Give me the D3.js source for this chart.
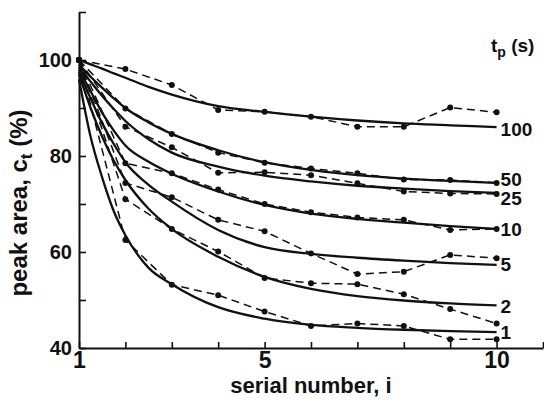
<!DOCTYPE html>
<html>
<head>
<meta charset="utf-8">
<script src="https://cdn.jsdelivr.net/npm/d3@7"></script>
<style>
  body { margin: 0; background: #fff; }
  svg { display: block; }
  text { font-family: "Liberation Sans", Arial, sans-serif; fill: #111; }
</style>
</head>
<body>
<div id="chart"></div>
<script>
// serial numbers of the injections
var serialNumbers = [1, 2, 3, 4, 5, 6, 7, 8, 9, 10];
var fitPositions = [1, 1.25, 1.5, 1.75, 2, 2.5, 3, 4, 5, 6, 7, 8, 9, 10];

var seriesLabels = ["100", "50", "25", "10", "5", "2", "1"];

// measured peak areas (dashed, with dots)
var meas100 = [100, 98.1, 94.8, 89.6, 89.2, 88.2, 86.1, 86.1, 90.1, 89.1];
var meas50 = [100, 89.9, 84.6, 80.7, 78.6, 77.4, 76.4, 75.1, 75.0, 74.4];
var meas25 = [100, 86.1, 81.8, 76.5, 76.6, 76.0, 74.3, 72.6, 72.2, 72.1];
var meas10 = [100, 78.5, 76.4, 73.0, 70.0, 68.3, 67.2, 66.7, 64.6, 64.8];
var meas5 = [100, 74.4, 71.4, 66.7, 64.3, 59.7, 55.4, 55.9, 59.4, 58.7];
var meas2 = [100, 71.0, 64.8, 60.1, 54.6, 53.5, 53.3, 51.2, 48.1, 45.1];
var meas1 = [100, 62.5, 53.2, 51.0, 47.6, 44.6, 45.1, 44.6, 41.8, 41.8];

// fitted curves (solid)
var fit100 = [100, 99.1, 98.2, 97.2, 96.3, 94.4, 92.8, 90.4, 89.2, 88.2, 87.4, 86.8, 86.4, 86.0];
var fit50 = [99, 96.5, 94.2, 92, 90, 87, 84.6, 81.2, 78.7, 77.1, 76.0, 75.3, 74.8, 74.4];
var fit25 = [98.5, 95.5, 92.5, 89.8, 87.3, 83.5, 80.7, 77.8, 75.9, 74.7, 73.8, 73.2, 72.7, 72.3];
var fit10 = [98, 93.5, 89, 85.3, 82.2, 78.8, 76.3, 72.6, 69.8, 68.0, 66.9, 66.1, 65.4, 64.8];
var fit5 = [97.5, 92, 86.8, 82.5, 78.7, 74, 70.5, 64.6, 61, 59.6, 58.8, 58.2, 57.7, 57.3];
var fit2 = [97, 90, 84, 79, 75, 69, 64.8, 59, 54.8, 52.3, 50.8, 49.9, 49.3, 48.9];
var fit1 = [96, 84, 75.5, 68.5, 63.5, 56.7, 53.3, 48.5, 46.1, 44.8, 44.2, 43.8, 43.5, 43.3];

var measured = [meas100, meas50, meas25, meas10, meas5, meas2, meas1];
var fitted = [fit100, fit50, fit25, fit10, fit5, fit2, fit1];

var yTicks = [40, 50, 60, 70, 80, 90, 100, 110];
var yTickLabels = [40, 60, 80, 100];
var xTicks = [1, 2, 3, 4, 5, 6, 7, 8, 9, 10, 11];
var xTickLabels = [1, 5, 10];

var width = 544, height = 401;

var x = d3.scaleLinear().domain([1, 11]).range([79, 543]);
var y = d3.scaleLinear().domain([40, 110]).range([348, 12]);

var svg = d3.select("#chart")
    .append("svg")
    .attr("width", width)
    .attr("height", height);

// axes, ticks pointing inward
var yAxis = d3.axisLeft(y)
    .tickValues(yTicks)
    .tickSizeInner(-7)
    .tickSizeOuter(0)
    .tickPadding(7)
    .tickFormat(function (d) { return yTickLabels.indexOf(d) >= 0 ? d : ""; });

var xAxis = d3.axisBottom(x)
    .tickValues(xTicks)
    .tickSizeInner(-6)
    .tickSizeOuter(0)
    .tickPadding(4)
    .tickFormat(function (d) { return xTickLabels.indexOf(d) >= 0 ? d : ""; });

var gy = svg.append("g")
    .attr("transform", "translate(" + x(1) + ",0)")
    .call(yAxis);

var gx = svg.append("g")
    .attr("transform", "translate(0," + y(40) + ")")
    .call(xAxis);

[gx, gy].forEach(function (g) {
    g.select(".domain").attr("stroke", "#111").attr("stroke-width", 2);
    g.selectAll(".tick line").attr("stroke", "#111").attr("stroke-width", 1.6);
    g.selectAll(".tick text")
        .attr("fill", "#111")
        .style("font-size", "20px")
        .style("font-weight", "bold")
        .style("font-family", "'Liberation Sans', Arial, sans-serif");
});
gx.selectAll(".tick text").style("font-size", "23px");

// fitted curves
var fitLine = d3.line()
    .x(function (d, i) { return x(fitPositions[i]); })
    .y(function (d) { return y(d); })
    .curve(d3.curveMonotoneX);

svg.selectAll("path.fit")
    .data(fitted)
    .enter()
    .append("path")
    .attr("class", "fit")
    .attr("fill", "none")
    .attr("stroke", "#111")
    .attr("stroke-width", 2.3)
    .attr("d", fitLine);

// measured series
var measLine = d3.line()
    .x(function (d, i) { return x(serialNumbers[i]); })
    .y(function (d) { return y(d); });

svg.selectAll("path.meas")
    .data(measured)
    .enter()
    .append("path")
    .attr("class", "meas")
    .attr("fill", "none")
    .attr("stroke", "#111")
    .attr("stroke-width", 1.5)
    .attr("stroke-dasharray", "8,5")
    .attr("d", measLine);

measured.forEach(function (series) {
    svg.selectAll(null)
        .data(series)
        .enter()
        .append("circle")
        .attr("cx", function (d, i) { return x(serialNumbers[i]); })
        .attr("cy", function (d) { return y(d); })
        .attr("r", 3)
        .attr("fill", "#111");
});

// series labels at the end of the fitted curves
var labelOffsets = [2, -4, 5, 0, -1, 1, 0];
svg.selectAll("text.series")
    .data(seriesLabels)
    .enter()
    .append("text")
    .attr("class", "series")
    .attr("x", x(10) + 4)
    .attr("y", function (d, i) { return y(fitted[i][fitted[i].length - 1]) + labelOffsets[i]; })
    .attr("dy", "0.36em")
    .style("font-size", "19px")
    .style("font-weight", "bold")
    .text(function (d) { return d; });

// legend title t_p (s)
var lt = svg.append("text")
    .attr("x", 491)
    .attr("y", 52)
    .style("font-size", "19px")
    .style("font-weight", "bold");
lt.append("tspan").text("t");
lt.append("tspan").attr("dy", 5).style("font-size", "14px").text("p");
lt.append("tspan").attr("dy", -5).text(" (s)");

// axis titles
svg.append("text")
    .attr("x", 311)
    .attr("y", 393)
    .style("text-anchor", "middle")
    .style("font-size", "22px")
    .style("font-weight", "bold")
    .text("serial number, i");

var yt = svg.append("text")
    .attr("transform", "translate(27,203) rotate(-90)")
    .style("text-anchor", "middle")
    .style("font-size", "24px")
    .style("font-weight", "bold");
yt.append("tspan").text("peak area, c");
yt.append("tspan").attr("dy", 5).style("font-size", "17px").text("t");
yt.append("tspan").attr("dy", -5).text(" (%)");
</script>
</body>
</html>
